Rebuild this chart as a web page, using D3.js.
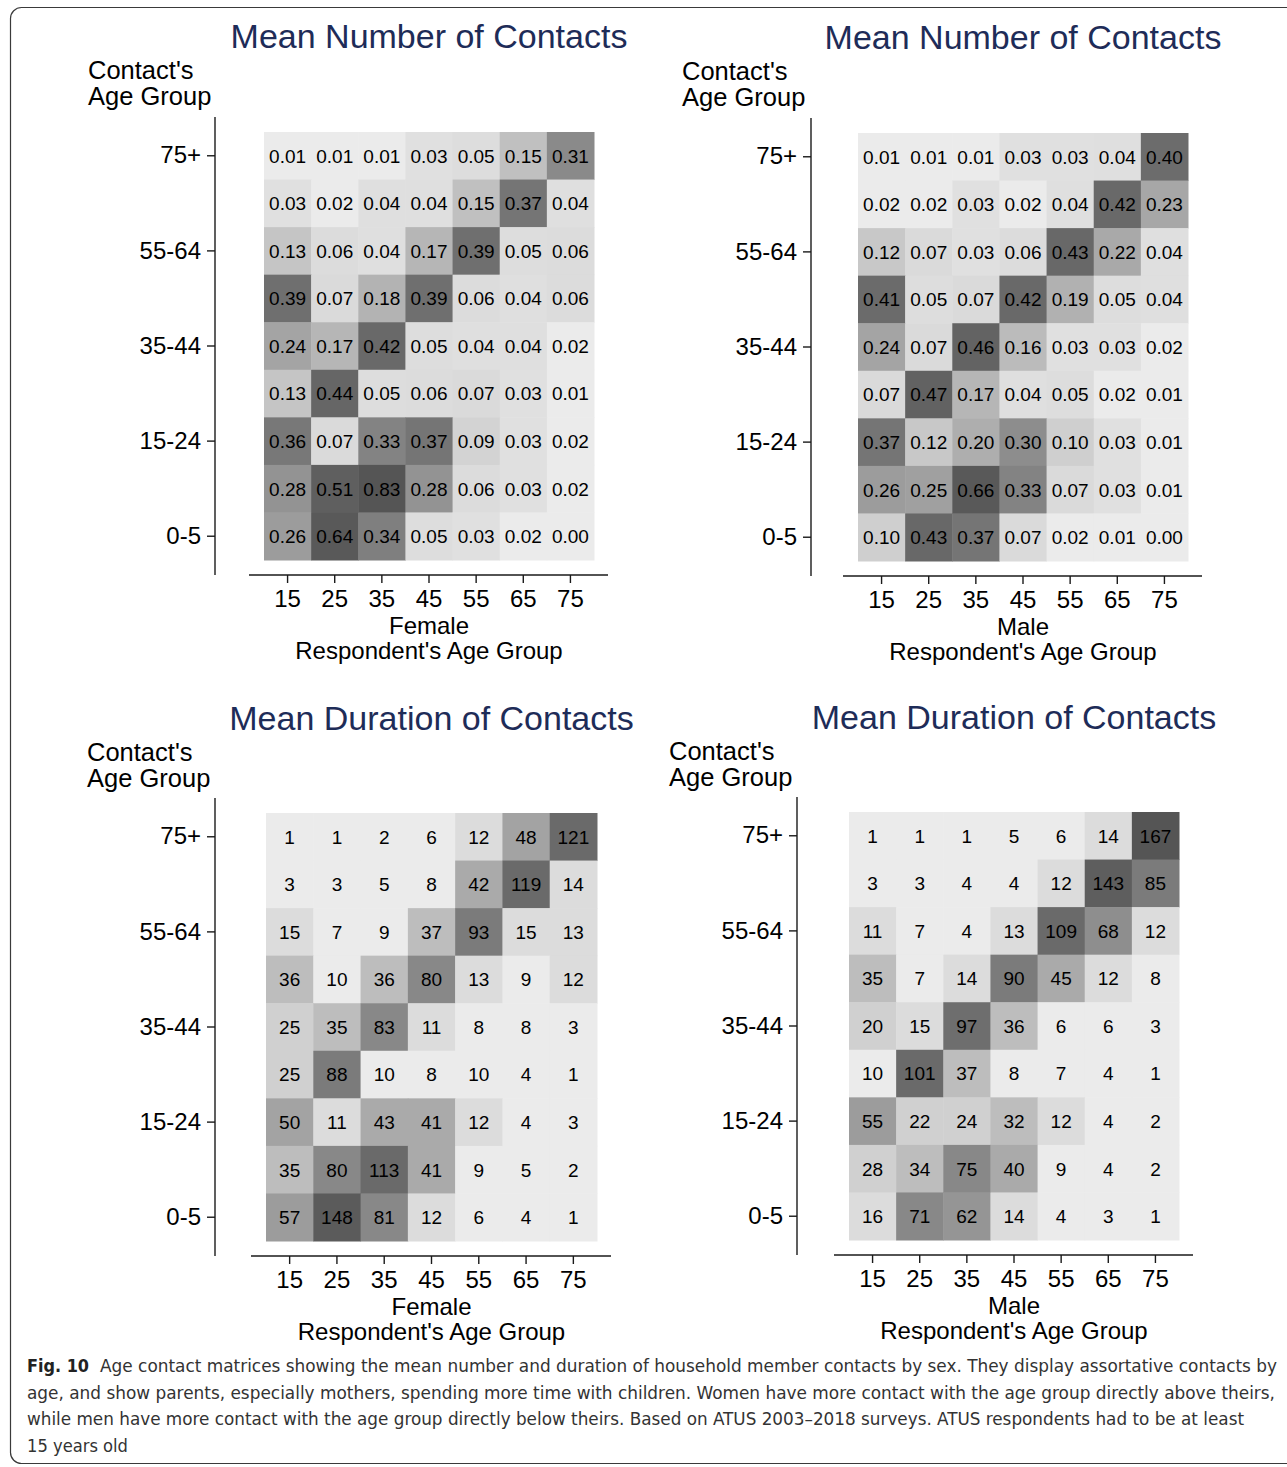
<!DOCTYPE html>
<html>
<head>
<meta charset="utf-8">
<script src="https://cdn.jsdelivr.net/npm/d3@7"></script>
<style>
  body { margin: 0; background: #fff; }
  svg { display: block; }
</style>
</head>
<body>
<svg id="fig" width="1287" height="1467"></svg>
<script>
// respondent age groups (columns) and contact age groups (rows, top to bottom)
const respondentAges = ['15', '25', '35', '45', '55', '65', '75']
const contactGroups = ['75+', '65-74', '55-64', '45-54', '35-44', '25-34', '15-24', '6-14', '0-5']
const contactTicks = ['75+', '55-64', '35-44', '15-24', '0-5']

const femaleNumber = [
  [0.01, 0.01, 0.01, 0.03, 0.05, 0.15, 0.31],
  [0.03, 0.02, 0.04, 0.04, 0.15, 0.37, 0.04],
  [0.13, 0.06, 0.04, 0.17, 0.39, 0.05, 0.06],
  [0.39, 0.07, 0.18, 0.39, 0.06, 0.04, 0.06],
  [0.24, 0.17, 0.42, 0.05, 0.04, 0.04, 0.02],
  [0.13, 0.44, 0.05, 0.06, 0.07, 0.03, 0.01],
  [0.36, 0.07, 0.33, 0.37, 0.09, 0.03, 0.02],
  [0.28, 0.51, 0.83, 0.28, 0.06, 0.03, 0.02],
  [0.26, 0.64, 0.34, 0.05, 0.03, 0.02, 0.00],
]
const maleNumber = [
  [0.01, 0.01, 0.01, 0.03, 0.03, 0.04, 0.40],
  [0.02, 0.02, 0.03, 0.02, 0.04, 0.42, 0.23],
  [0.12, 0.07, 0.03, 0.06, 0.43, 0.22, 0.04],
  [0.41, 0.05, 0.07, 0.42, 0.19, 0.05, 0.04],
  [0.24, 0.07, 0.46, 0.16, 0.03, 0.03, 0.02],
  [0.07, 0.47, 0.17, 0.04, 0.05, 0.02, 0.01],
  [0.37, 0.12, 0.20, 0.30, 0.10, 0.03, 0.01],
  [0.26, 0.25, 0.66, 0.33, 0.07, 0.03, 0.01],
  [0.10, 0.43, 0.37, 0.07, 0.02, 0.01, 0.00],
]
const femaleDuration = [
  [1, 1, 2, 6, 12, 48, 121],
  [3, 3, 5, 8, 42, 119, 14],
  [15, 7, 9, 37, 93, 15, 13],
  [36, 10, 36, 80, 13, 9, 12],
  [25, 35, 83, 11, 8, 8, 3],
  [25, 88, 10, 8, 10, 4, 1],
  [50, 11, 43, 41, 12, 4, 3],
  [35, 80, 113, 41, 9, 5, 2],
  [57, 148, 81, 12, 6, 4, 1],
]
const maleDuration = [
  [1, 1, 1, 5, 6, 14, 167],
  [3, 3, 4, 4, 12, 143, 85],
  [11, 7, 4, 13, 109, 68, 12],
  [35, 7, 14, 90, 45, 12, 8],
  [20, 15, 97, 36, 6, 6, 3],
  [10, 101, 37, 8, 7, 4, 1],
  [55, 22, 24, 32, 12, 4, 2],
  [28, 34, 75, 40, 9, 4, 2],
  [16, 71, 62, 14, 4, 3, 1],
]

const captionLines = [
  'Age contact matrices showing the mean number and duration of household member contacts by sex. They display assortative contacts by',
  'age, and show parents, especially mothers, spending more time with children. Women have more contact with the age group directly above theirs,',
  'while men have more contact with the age group directly below theirs. Based on ATUS 2003\u20132018 surveys. ATUS respondents had to be at least',
  '15 years old',
]

// grey shading, darker = more contact
const numberColor = d3.scaleLinear()
  .domain([0, 0.02, 0.03, 0.07, 0.10, 0.13, 0.15, 0.17, 0.20, 0.24, 0.28, 0.31, 0.36, 0.40, 0.46, 0.55, 0.85])
  .range(['#ebebeb', '#ebebeb', '#e0e0e0', '#dadada', '#cfcfcf', '#c5c5c5', '#c0c0c0', '#b6b6b6',
    '#aeaeae', '#a4a4a4', '#939393', '#8a8a8a', '#787878', '#6c6c6c', '#636363', '#5b5b5b', '#555555'])
  .clamp(true)
const durationColor = d3.scaleThreshold()
  .domain([10.5, 19, 30, 39, 47, 52, 60, 65, 70, 84, 95, 99, 130, 145, 160])
  .range(['#ebebeb', '#dcdcdc', '#d0d0d0', '#bdbdbd', '#aaaaaa', '#a3a3a3', '#9c9c9c', '#959595',
    '#8e8e8e', '#888888', '#7b7b7b', '#6e6e6e', '#6a6a6a', '#5e5e5e', '#5b5b5b', '#555555'])

const panels = [
  { title: 'Mean Number of Contacts', sex: 'Female', values: femaleNumber, color: numberColor, fmt: d3.format('.2f'),
    box: [264, 594, 132, 560], yAxisX: 215, yTitleX: 88, titleY: 48 },
  { title: 'Mean Number of Contacts', sex: 'Male', values: maleNumber, color: numberColor, fmt: d3.format('.2f'),
    box: [858, 1188, 133, 561], yAxisX: 811, yTitleX: 682, titleY: 49 },
  { title: 'Mean Duration of Contacts', sex: 'Female', values: femaleDuration, color: durationColor, fmt: d3.format('d'),
    box: [266, 597, 813, 1241], yAxisX: 215, yTitleX: 87, titleY: 730 },
  { title: 'Mean Duration of Contacts', sex: 'Male', values: maleDuration, color: durationColor, fmt: d3.format('d'),
    box: [849, 1179, 812, 1240], yAxisX: 797, yTitleX: 669, titleY: 729 },
]

const font = "'Liberation Sans', Arial, Helvetica, sans-serif"
const svg = d3.select('#fig')

// outer frame of the figure
svg.append('rect')
  .attr('x', 10.5).attr('y', 7.5)
  .attr('width', 1300).attr('height', 1456)
  .attr('rx', 11)
  .attr('fill', 'none').attr('stroke', '#3a3a3a').attr('stroke-width', 1.2)

function drawPanel(p) {
  const [x0, x1, y0, y1] = p.box
  const g = svg.append('g').style('font-family', font)
  const x = d3.scaleBand().domain(respondentAges).range([x0, x1])
  const y = d3.scaleBand().domain(contactGroups).range([y0, y1])
  const cx = (x0 + x1) / 2

  const cells = p.values.flatMap((row, i) =>
    row.map((v, j) => ({ row: contactGroups[i], col: respondentAges[j], v })))

  g.selectAll('rect.cell')
    .data(cells)
    .join('rect')
    .attr('class', 'cell')
    .attr('x', (d) => x(d.col))
    .attr('y', (d) => y(d.row))
    .attr('width', x.bandwidth() + 0.5)
    .attr('height', y.bandwidth() + 0.5)
    .attr('fill', (d) => p.color(d.v))

  g.selectAll('text.val')
    .data(cells)
    .join('text')
    .attr('class', 'val')
    .attr('x', (d) => x(d.col) + x.bandwidth() / 2)
    .attr('y', (d) => y(d.row) + y.bandwidth() / 2)
    .attr('dy', '0.36em')
    .attr('text-anchor', 'middle')
    .attr('font-size', 19)
    .attr('fill', '#000')
    .text((d) => p.fmt(d.v))

  // y axis (contact age group)
  const yAxis = g.append('g')
    .attr('transform', `translate(${p.yAxisX},0)`)
    .call(d3.axisLeft(y).tickValues(contactTicks).tickSize(8).tickPadding(6))
  yAxis.select('.domain').remove()
  yAxis.append('line')
    .attr('y1', y0 - 15).attr('y2', y1 + 15)
    .attr('stroke', '#1a1a1a').attr('stroke-width', 1.4)

  // x axis (respondent age group)
  const axisY = y1 + 15
  const xAxis = g.append('g')
    .attr('transform', `translate(0,${axisY})`)
    .call(d3.axisBottom(x).tickSize(8).tickPadding(7))
  xAxis.select('.domain').remove()
  xAxis.append('line')
    .attr('x1', x0 - 15).attr('x2', x1 + 14)
    .attr('stroke', '#1a1a1a').attr('stroke-width', 1.4)

  g.selectAll('.tick line').attr('stroke', '#1a1a1a').attr('stroke-width', 1.4)
  g.selectAll('.tick text')
    .attr('font-family', font).attr('font-size', 24).attr('fill', '#000')

  g.append('text')
    .attr('x', cx).attr('y', p.titleY)
    .attr('text-anchor', 'middle')
    .attr('font-size', 34).attr('fill', '#1e2c58')
    .text(p.title)

  g.append('text')
    .attr('x', p.yTitleX).attr('y', p.titleY + 31)
    .attr('font-size', 25.5).attr('fill', '#000')
    .text("Contact's")
  g.append('text')
    .attr('x', p.yTitleX).attr('y', p.titleY + 57)
    .attr('font-size', 25.5).attr('fill', '#000')
    .text('Age Group')

  g.append('text')
    .attr('x', cx).attr('y', axisY + 59)
    .attr('text-anchor', 'middle')
    .attr('font-size', 24).attr('fill', '#000')
    .text(p.sex)
  g.append('text')
    .attr('x', cx).attr('y', axisY + 84)
    .attr('text-anchor', 'middle')
    .attr('font-size', 24).attr('fill', '#000')
    .text("Respondent's Age Group")
}

panels.forEach(drawPanel)

// caption, condensed to the widths of the printed lines
const capFont = "'Liberation Sans Narrow', 'DejaVu Sans Condensed', sans-serif"
const capLayout = [
  { x: 100, y: 1372, w: 1177 },
  { x: 27, y: 1399, w: 1248 },
  { x: 27, y: 1425, w: 1217 },
  { x: 27, y: 1452, w: 101 },
]
svg.append('text')
  .attr('x', 27).attr('y', 1372)
  .style('font-family', capFont).attr('font-size', 18.5).attr('font-weight', 700)
  .attr('fill', '#222')
  .attr('textLength', 62).attr('lengthAdjust', 'spacingAndGlyphs')
  .text('Fig. 10')
svg.selectAll('text.cap')
  .data(captionLines)
  .join('text')
  .attr('class', 'cap')
  .attr('x', (d, i) => capLayout[i].x)
  .attr('y', (d, i) => capLayout[i].y)
  .style('font-family', capFont).attr('font-size', 18)
  .attr('fill', '#333')
  .attr('textLength', (d, i) => capLayout[i].w)
  .attr('lengthAdjust', 'spacingAndGlyphs')
  .text((d) => d)
</script>
</body>
</html>
